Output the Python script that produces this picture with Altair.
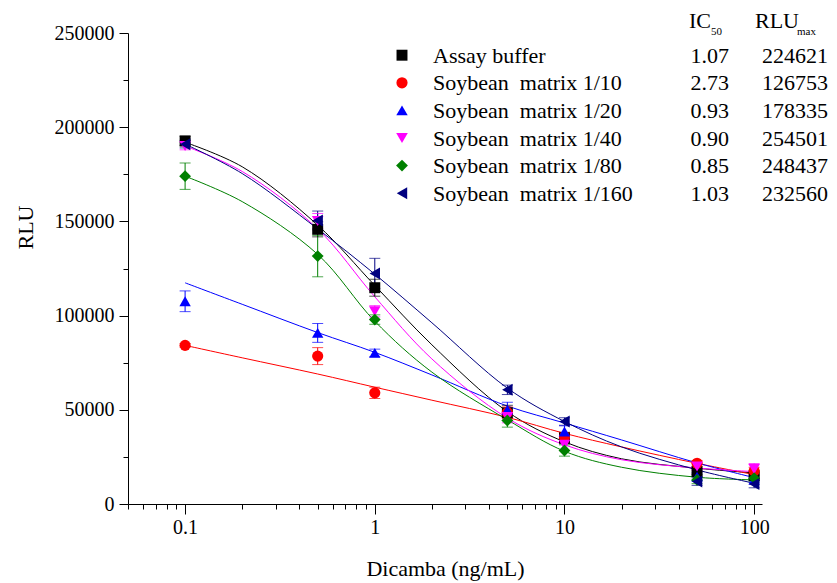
import altair as alt
import pandas as pd

# ---------------- data ----------------
series = ["Assay buffer", "Soybean matrix 1/10", "Soybean matrix 1/20",
          "Soybean matrix 1/40", "Soybean matrix 1/80", "Soybean matrix 1/160"]
legend_labels = ["Assay buffer", "Soybean\u00a0 matrix 1/10", "Soybean\u00a0 matrix 1/20",
                 "Soybean\u00a0 matrix 1/40", "Soybean\u00a0 matrix 1/80", "Soybean\u00a0 matrix 1/160"]
colors = ["#000000", "#ff0000", "#0000ff", "#ff00ff", "#008000", "#000080"]
shapes = ["square", "circle", "triangle-up", "triangle-down", "diamond", "triangle-left"]
sizes = [120, 145, 155, 155, 175, 155]
ic50 = ["1.07", "2.73", "0.93", "0.90", "0.85", "1.03"]
rlu_max = ["224621", "126753", "178335", "254501", "248437", "232560"]

conc = [0.1, 0.5, 1, 5, 10, 50, 100]
rlu_buffer = [192700, 145800, 114800, 48400, 35000, 17200, 15000]
rlu_1_10 = [84200, 78500, 59000, 48500, 35500, 21600, 17500]
rlu_1_20 = [107600, 90800, 80200, 50000, 38500, 14500, 12800]
rlu_1_40 = [190000, 150200, 102300, 46100, 31400, 19900, 18500]
rlu_1_80 = [174000, 131600, 97900, 44300, 28400, 12800, 13700]
rlu_1_160 = [191000, 150500, 122400, 60600, 43800, 11900, 10600]

err_buffer = [2500, 4000, 4500, 4000, 3000, 1500, 1500]
err_1_10 = [1000, 4500, 3000, 3000, 2500, 1500, 2000]
err_1_20 = [5500, 5000, 2000, 4000, 3000, 2000, 1500]
err_1_40 = [2000, 4000, 3000, 3000, 3000, 2000, 3000]
err_1_80 = [7000, 11000, 2500, 3500, 3000, 2000, 1500]
err_1_160 = [2000, 5000, 8000, 2500, 2000, 2000, 2000]

curve_conc = [0.1, 0.2, 0.5, 1, 2, 5, 10, 20, 50, 100]
fit_buffer = [192000, 179000, 148000, 116000, 84500, 49000, 33000, 24000, 19000, 16500]
fit_1_10 = [84200, 77600, 69000, 62000, 55100, 46000, 37500, 30300, 21600, 15600]
fit_1_20 = [117400, 106000, 91000, 80500, 68500, 52000, 43000, 34000, 21800, 14000]
fit_1_40 = [190000, 176500, 146000, 110000, 77000, 45600, 31400, 23500, 19100, 17200]
fit_1_80 = [174000, 160500, 132500, 97000, 70000, 44700, 28000, 19500, 14200, 12800]
fit_1_160 = [191000, 175400, 146000, 122000, 96200, 61500, 43800, 30300, 18100, 11000]

x_major = [0.1, 1, 10, 100]
x_minor = [0.05, 0.06, 0.07, 0.08, 0.09, 0.2, 0.3, 0.4, 0.5, 0.6, 0.7, 0.8, 0.9,
           2, 3, 4, 5, 6, 7, 8, 9, 20, 30, 40, 50, 60, 70, 80, 90]
y_major = [0, 50000, 100000, 150000, 200000, 250000]
y_minor = [25000, 75000, 125000, 175000, 225000]

# ---------------- tables ----------------
pts_vals = [rlu_buffer, rlu_1_10, rlu_1_20, rlu_1_40, rlu_1_80, rlu_1_160]
pts_errs = [err_buffer, err_1_10, err_1_20, err_1_40, err_1_80, err_1_160]
fits = [fit_buffer, fit_1_10, fit_1_20, fit_1_40, fit_1_80, fit_1_160]

rows = []
for s, vals, errs in zip(series, pts_vals, pts_errs):
    for c, v, e in zip(conc, vals, errs):
        rows.append({"series": s, "conc": c, "rlu": v, "lo": v - e, "hi": v + e})
pts = pd.DataFrame(rows)

caps = pd.concat([
    pts[["series", "conc", "lo"]].rename(columns={"lo": "end"}),
    pts[["series", "conc", "hi"]].rename(columns={"hi": "end"}),
])

crows = []
for s, f in zip(series, fits):
    for c, v in zip(curve_conc, f):
        crows.append({"series": s, "conc": c, "rlu": v})
curves = pd.DataFrame(crows)

leg = pd.DataFrame({"series": series, "label": legend_labels, "ic50": ic50,
                    "rlu": rlu_max, "row": list(range(len(series)))})

# ---------------- encodings ----------------
FONT = "Liberation Serif"
xscale = alt.Scale(type="log", domain=[0.05, 110])
yscale = alt.Scale(domain=[0, 250000])
color = alt.Color("series:N", scale=alt.Scale(domain=series, range=colors), legend=None)
shape = alt.Shape("series:N", scale=alt.Scale(domain=series, range=shapes), legend=None)
size = alt.Size("series:N", scale=alt.Scale(domain=series, range=sizes), legend=None)

x_major_axis = alt.Axis(values=x_major, format="~g", tickSize=10, labelPadding=3,
                        orient="bottom", title="Dicamba (ng/mL)", titleY=64,
                        titleBaseline="middle", labelFlush=False, labelOverlap=False,
                        labelFont=FONT, titleFont=FONT, labelFontSize=20, titleFontSize=22)
y_major_axis = alt.Axis(values=y_major, format="d", tickSize=9, labelPadding=5,
                        orient="left", title="RLU", titleX=-103, titleY=194,
                        titleBaseline="middle", labelOverlap=False,
                        labelFont=FONT, titleFont=FONT, labelFontSize=20, titleFontSize=22)
x_minor_axis = alt.Axis(values=x_minor, tickSize=5, labels=False, domain=False,
                        orient="bottom", title=None)
y_minor_axis = alt.Axis(values=y_minor, tickSize=5, labels=False, domain=False,
                        orient="left", title=None)

lines = alt.Chart(curves).mark_line(interpolate="catmull-rom", strokeWidth=1).encode(
    x=alt.X("conc:Q", scale=xscale, axis=x_major_axis),
    y=alt.Y("rlu:Q", scale=yscale, axis=y_major_axis),
    color=color,
    detail="series:N",
)

err_rules = alt.Chart(pts).mark_rule(strokeWidth=1).encode(
    x=alt.X("conc:Q", scale=xscale, axis=x_minor_axis),
    y=alt.Y("lo:Q", scale=yscale, axis=y_minor_axis),
    y2="hi:Q",
    color=color,
)

err_caps = alt.Chart(caps).mark_tick(orient="horizontal", size=11, thickness=1).encode(
    x=alt.X("conc:Q", scale=xscale, axis=None),
    y=alt.Y("end:Q", scale=yscale, axis=None),
    color=color,
)

points = alt.Chart(pts).mark_point(filled=True, opacity=1).encode(
    x=alt.X("conc:Q", scale=xscale, axis=None),
    y=alt.Y("rlu:Q", scale=yscale, axis=None),
    color=color, shape=shape, size=size,
)

leg_base = alt.Chart(leg).transform_calculate(
    ym="22.2 + datum.row * 27.6", yb="29.7 + datum.row * 27.6"
)
leg_pts = leg_base.mark_point(filled=True, opacity=1).encode(
    x=alt.value(274), y=alt.Y("ym:Q", scale=None, axis=None),
    color=color, shape=shape, size=size,
)
leg_names = leg_base.mark_text(align="left", baseline="alphabetic", font=FONT,
                               fontSize=22, color="black").encode(
    x=alt.value(305), y=alt.Y("yb:Q", scale=None, axis=None), text="label:N")
leg_ic = leg_base.mark_text(align="right", baseline="alphabetic", font=FONT,
                            fontSize=22, color="black").encode(
    x=alt.value(601), y=alt.Y("yb:Q", scale=None, axis=None), text="ic50:N")
leg_rlu = leg_base.mark_text(align="right", baseline="alphabetic", font=FONT,
                             fontSize=22, color="black").encode(
    x=alt.value(700), y=alt.Y("yb:Q", scale=None, axis=None), text="rlu:N")

hdr = alt.Chart(pd.DataFrame({"k": [0]}))
h_ic = hdr.mark_text(text="IC", align="left", baseline="alphabetic", font=FONT,
                     fontSize=22, color="black").encode(x=alt.value(561), y=alt.value(-5))
h_50 = hdr.mark_text(text="50", align="left", baseline="alphabetic", font=FONT,
                     fontSize=11, color="black").encode(x=alt.value(583), y=alt.value(2))
h_rlu = hdr.mark_text(text="RLU", align="left", baseline="alphabetic", font=FONT,
                      fontSize=22, color="black").encode(x=alt.value(627), y=alt.value(-5))
h_max = hdr.mark_text(text="max", align="left", baseline="alphabetic", font=FONT,
                      fontSize=11, color="black").encode(x=alt.value(669), y=alt.value(2))

chart = alt.layer(
    lines, err_rules, err_caps, points,
    leg_pts, leg_names, leg_ic, leg_rlu, h_ic, h_50, h_rlu, h_max,
).resolve_axis(x="independent", y="independent").properties(
    width=634, height=471,
    autosize=alt.AutoSizeParams(type="none"),
    padding={"left": 120, "top": 25, "right": 67, "bottom": 78},
    background="white",
).configure_view(stroke=None).configure_axis(
    labelFont=FONT, labelFontSize=20, labelColor="black",
    titleFont=FONT, titleFontSize=22, titleFontWeight="normal", titleColor="black",
    domainColor="black", tickColor="black", grid=False,
)

chart.save("out.html", embed_options={"renderer": "svg", "actions": False})
